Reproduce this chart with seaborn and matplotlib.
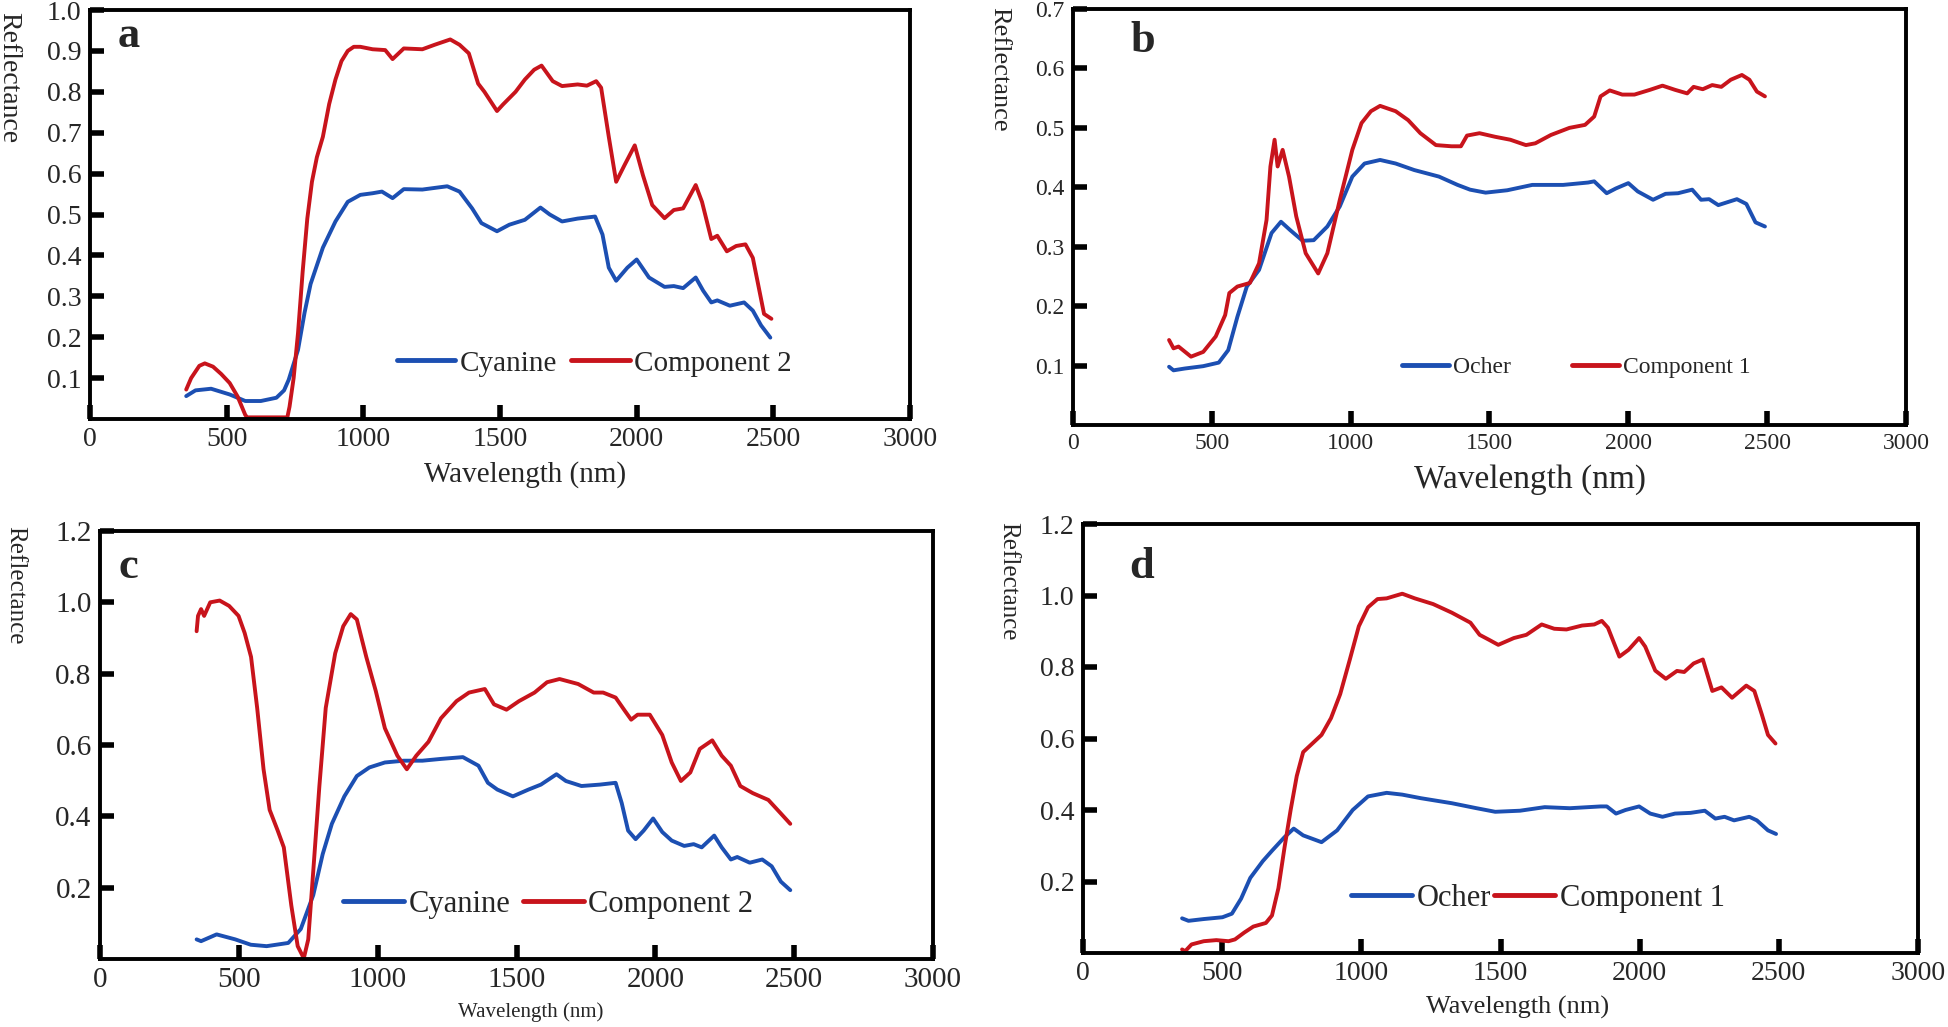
"""Reflectance spectra of pigments against their unmixed components (four panels)."""
import numpy as np
import pandas as pd
import seaborn as sns
import matplotlib
matplotlib.use("Agg")
import matplotlib.pyplot as plt
from matplotlib.ticker import FormatStrFormatter

# ---- panel a : Cyanine vs Component 2 ----
a_cyan_wl = [352, 386, 443, 511, 568, 625, 682, 710, 727, 761, 785, 807, 852, 898, 943, 989,
             1034, 1068, 1107, 1148, 1216, 1261, 1307, 1352, 1398, 1432, 1489, 1534, 1591,
             1648, 1682, 1727, 1784, 1848, 1875, 1898, 1925, 1966, 2000, 2045, 2102, 2136,
             2170, 2216, 2243, 2273, 2295, 2341, 2393, 2425, 2455, 2489]
a_cyan_r = [0.056, 0.070, 0.074, 0.060, 0.044, 0.044, 0.052, 0.070, 0.096, 0.169, 0.260,
            0.330, 0.419, 0.483, 0.531, 0.548, 0.552, 0.556, 0.540, 0.562, 0.561, 0.565,
            0.569, 0.556, 0.515, 0.479, 0.459, 0.475, 0.487, 0.517, 0.500, 0.483, 0.490,
            0.495, 0.451, 0.370, 0.338, 0.370, 0.390, 0.346, 0.323, 0.325, 0.320, 0.346,
            0.314, 0.285, 0.290, 0.277, 0.285, 0.265, 0.229, 0.199]
a_comp_wl = [352, 370, 400, 420, 450, 480, 511, 540, 568, 575, 650, 722, 730, 745, 761, 778,
             795, 812, 830, 852, 875, 898, 920, 943, 965, 989, 1034, 1080, 1107, 1148, 1216,
             1261, 1318, 1352, 1386, 1420, 1443, 1489, 1511, 1557, 1591, 1625, 1652, 1693,
             1727, 1784, 1818, 1852, 1870, 1898, 1925, 1955, 1993, 2023, 2057, 2102, 2136,
             2170, 2216, 2239, 2273, 2295, 2330, 2364, 2398, 2425, 2466, 2493]
a_comp_r = [0.072, 0.100, 0.130, 0.136, 0.128, 0.110, 0.088, 0.055, 0.010, 0.004, 0.004, 0.004,
            0.030, 0.100, 0.210, 0.360, 0.490, 0.580, 0.640, 0.690, 0.770, 0.830, 0.875,
            0.900, 0.910, 0.910, 0.904, 0.902, 0.880, 0.906, 0.904, 0.915, 0.928, 0.915,
            0.894, 0.820, 0.800, 0.753, 0.769, 0.800, 0.830, 0.854, 0.864, 0.826, 0.814,
            0.818, 0.815, 0.826, 0.810, 0.690, 0.580, 0.620, 0.669, 0.596, 0.523, 0.491,
            0.511, 0.515, 0.572, 0.531, 0.440, 0.448, 0.410, 0.423, 0.427, 0.394, 0.257,
            0.245]

# ---- panel b : Ocher vs Component 1 ----
b_ocher_wl = [346, 362, 402, 469, 525, 559, 592, 626, 670, 715, 749, 782, 827, 867, 916,
              961, 1006, 1050, 1106, 1162, 1229, 1318, 1385, 1430, 1486, 1564, 1654, 1765,
              1855, 1877, 1922, 1955, 2000, 2034, 2089, 2134, 2179, 2230, 2262, 2291, 2324,
              2391, 2425, 2458, 2492]
b_ocher_r = [0.098, 0.092, 0.095, 0.099, 0.105, 0.126, 0.182, 0.233, 0.261, 0.323, 0.342,
             0.328, 0.310, 0.311, 0.334, 0.368, 0.418, 0.440, 0.446, 0.440, 0.429, 0.418,
             0.404, 0.396, 0.391, 0.395, 0.404, 0.404, 0.408, 0.410, 0.390, 0.398, 0.407,
             0.393, 0.379, 0.389, 0.390, 0.396, 0.379, 0.380, 0.370, 0.380, 0.372, 0.341,
             0.334]
b_comp_wl = [346, 362, 380, 425, 469, 514, 548, 563, 592, 637, 670, 697, 711, 726, 737, 755,
             778, 804, 838, 883, 916, 961, 1006, 1039, 1073, 1106, 1162, 1207, 1251, 1307,
             1363, 1397, 1419, 1464, 1520, 1575, 1631, 1665, 1721, 1788, 1844, 1877, 1900,
             1933, 1978, 2022, 2078, 2123, 2168, 2212, 2235, 2268, 2302, 2335, 2369, 2409,
             2436, 2463, 2492]
b_comp_r = [0.143, 0.129, 0.132, 0.115, 0.123, 0.149, 0.185, 0.222, 0.233, 0.239, 0.272,
            0.345, 0.435, 0.480, 0.435, 0.463, 0.418, 0.351, 0.289, 0.255, 0.289, 0.379,
            0.463, 0.508, 0.528, 0.537, 0.528, 0.513, 0.491, 0.471, 0.469, 0.469, 0.487,
            0.491, 0.485, 0.480, 0.471, 0.474, 0.488, 0.500, 0.505, 0.519, 0.553, 0.563,
            0.556, 0.556, 0.564, 0.571, 0.564, 0.558, 0.569, 0.565, 0.572, 0.569, 0.581,
            0.589, 0.581, 0.561, 0.553]

# ---- panel c : Cyanine vs Component 2 ----
c_cyan_wl = [348, 364, 420, 487, 543, 600, 678, 723, 768, 802, 835, 880, 925, 970, 1026,
             1094, 1161, 1228, 1307, 1363, 1397, 1431, 1487, 1543, 1588, 1644, 1678, 1734,
             1801, 1857, 1879, 1902, 1929, 1958, 1992, 2025, 2059, 2104, 2138, 2167, 2212,
             2239, 2272, 2295, 2340, 2385, 2419, 2452, 2486]
c_cyan_r = [0.055, 0.050, 0.069, 0.055, 0.040, 0.036, 0.045, 0.084, 0.179, 0.294, 0.379,
            0.456, 0.513, 0.537, 0.551, 0.556, 0.556, 0.561, 0.566, 0.542, 0.494, 0.475,
            0.456, 0.475, 0.489, 0.518, 0.499, 0.485, 0.489, 0.494, 0.437, 0.360, 0.336,
            0.360, 0.394, 0.356, 0.332, 0.317, 0.322, 0.313, 0.346, 0.313, 0.279, 0.286,
            0.270, 0.279, 0.260, 0.217, 0.193]
c_comp_wl = [348, 353, 364, 375, 397, 431, 465, 499, 521, 544, 566, 589, 611, 640, 662, 689,
             712, 734, 750, 768, 790, 813, 847, 876, 903, 925, 959, 993, 1026, 1071, 1105,
             1139, 1183, 1228, 1284, 1329, 1386, 1419, 1464, 1509, 1565, 1610, 1655, 1722,
             1778, 1812, 1857, 1891, 1913, 1936, 1980, 2025, 2059, 2092, 2126, 2160, 2205,
             2239, 2272, 2306, 2351, 2407, 2452, 2486]
c_comp_r = [0.919, 0.962, 0.981, 0.962, 1.000, 1.005, 0.990, 0.962, 0.914, 0.847, 0.704,
            0.532, 0.418, 0.360, 0.313, 0.150, 0.036, 0.002, 0.055, 0.246, 0.484, 0.704,
            0.857, 0.933, 0.967, 0.952, 0.847, 0.752, 0.647, 0.570, 0.532, 0.570, 0.609,
            0.675, 0.723, 0.747, 0.757, 0.714, 0.699, 0.723, 0.747, 0.776, 0.785, 0.771,
            0.747, 0.747, 0.733, 0.695, 0.671, 0.685, 0.685, 0.628, 0.551, 0.499, 0.523,
            0.589, 0.613, 0.570, 0.542, 0.485, 0.465, 0.446, 0.408, 0.379]

# ---- panel d : Ocher vs Component 1 ----
d_ocher_wl = [356, 379, 434, 501, 535, 568, 601, 646, 679, 724, 757, 791, 857, 913, 969,
              1024, 1091, 1147, 1214, 1325, 1414, 1481, 1570, 1659, 1749, 1860, 1882, 1915,
              1949, 1998, 2038, 2082, 2127, 2183, 2234, 2272, 2305, 2339, 2394, 2421, 2461,
              2490]
d_ocher_r = [0.097, 0.090, 0.095, 0.100, 0.110, 0.152, 0.210, 0.257, 0.286, 0.324, 0.348,
             0.329, 0.310, 0.343, 0.400, 0.438, 0.448, 0.443, 0.433, 0.419, 0.405, 0.395,
             0.398, 0.408, 0.405, 0.410, 0.410, 0.390, 0.400, 0.410, 0.390, 0.381, 0.390,
             0.392, 0.398, 0.376, 0.381, 0.371, 0.381, 0.371, 0.343, 0.333]
d_comp_wl = [356, 367, 390, 434, 479, 523, 546, 579, 612, 657, 679, 702, 724, 746, 768, 791,
             824, 857, 891, 924, 958, 991, 1024, 1058, 1091, 1147, 1192, 1258, 1325, 1392,
             1425, 1459, 1492, 1548, 1593, 1648, 1693, 1737, 1793, 1837, 1864, 1886, 1927,
             1960, 1998, 2020, 2056, 2094, 2134, 2160, 2194, 2227, 2261, 2294, 2332, 2383,
             2412, 2439, 2461, 2488]
d_comp_r = [0.010, 0.005, 0.024, 0.033, 0.036, 0.033, 0.038, 0.057, 0.074, 0.084, 0.105,
            0.181, 0.295, 0.400, 0.495, 0.562, 0.586, 0.610, 0.657, 0.724, 0.819, 0.914,
            0.967, 0.990, 0.992, 1.005, 0.992, 0.976, 0.952, 0.924, 0.890, 0.876, 0.862,
            0.881, 0.890, 0.919, 0.907, 0.905, 0.916, 0.919, 0.929, 0.910, 0.829, 0.848,
            0.881, 0.857, 0.790, 0.767, 0.789, 0.786, 0.810, 0.821, 0.733, 0.743, 0.714,
            0.748, 0.733, 0.667, 0.610, 0.586]

x_ticks = [0, 500, 1000, 1500, 2000, 2500, 3000]
BLUE = "#1c4fb2"
RED = "#c8141c"

W, H = 1948, 1027
sns.set_theme(style="white")
plt.rcParams["font.family"] = ["Liberation Serif", "DejaVu Serif"]

fig = plt.figure(figsize=(W / 100, H / 100), dpi=100)

# per panel: axes rect in pixels (left, top, right, bottom), y range, y ticks, fonts, text spots
panels = [
    dict(letter="a", rect=(90, 10, 910, 419), ylim=1.0, yticks=np.arange(1, 11) / 10,
         series=[("Cyanine", a_cyan_wl, a_cyan_r), ("Component 2", a_comp_wl, a_comp_r)],
         tick_fs=20, xl_fs=21, yl_fs=20, leg_fs=21, leg=(0.615, 0.136), colsp=0.5,
         xl=(0.53, -0.136), yl=(-0.099, 0.835), let=(129, 47)),
    dict(letter="b", rect=(1073, 9, 1906, 425), ylim=0.7, yticks=np.arange(1, 8) / 10,
         series=[("Ocher", b_ocher_wl, b_ocher_r), ("Component 1", b_comp_wl, b_comp_r)],
         tick_fs=17, xl_fs=24, yl_fs=19, leg_fs=17, leg=(0.604, 0.139), colsp=2.6,
         xl=(0.549, -0.132), yl=(-0.089, 0.856), let=(1143, 52)),
    dict(letter="c", rect=(100, 531, 933, 959), ylim=1.2, yticks=np.arange(1, 7) / 5,
         series=[("Cyanine", c_cyan_wl, c_cyan_r), ("Component 2", c_comp_wl, c_comp_r)],
         tick_fs=21, xl_fs=15, yl_fs=18, leg_fs=22, leg=(0.538, 0.128), colsp=0.4,
         xl=(0.517, -0.124), yl=(-0.102, 0.874), let=(128, 578)),
    dict(letter="d", rect=(1083, 524, 1918, 953), ylim=1.2, yticks=np.arange(1, 7) / 5,
         series=[("Ocher", d_ocher_wl, d_ocher_r), ("Component 1", d_comp_wl, d_comp_r)],
         tick_fs=20, xl_fs=19, yl_fs=18, leg_fs=22, leg=(0.545, 0.128), colsp=0.1,
         xl=(0.52, -0.128), yl=(-0.090, 0.867), let=(1142, 578)),
]

for p in panels:
    l, t, r, b = p["rect"]
    ax = fig.add_axes([l / W, 1 - b / H, (r - l) / W, (b - t) / H])
    frames = []
    for name, wl, refl in p["series"]:
        frames.append(pd.DataFrame({"Wavelength": wl, "Reflectance": refl, "series": name}))
    df = pd.concat(frames, ignore_index=True)
    names = [s[0] for s in p["series"]]
    sns.lineplot(data=df, x="Wavelength", y="Reflectance", hue="series", hue_order=names,
                 palette=[BLUE, RED], sort=False, estimator=None, linewidth=2.8, ax=ax)

    ax.set_xlim(0, 3000)
    ax.set_ylim(0, p["ylim"])
    ax.set_xticks(x_ticks)
    ax.set_yticks(p["yticks"])
    ax.yaxis.set_major_formatter(FormatStrFormatter("%.1f"))
    ax.tick_params(direction="in", length=10, width=4, color="black",
                   labelsize=p["tick_fs"], pad=6, bottom=True, left=True)
    for s in ax.spines.values():
        s.set_linewidth(2.8)
        s.set_color("black")
    ax.grid(False)

    ax.set_xlabel("Wavelength (nm)", fontsize=p["xl_fs"])
    ax.xaxis.label.set_va("center")
    ax.xaxis.set_label_coords(*p["xl"])
    ax.set_ylabel("Reflectance", fontsize=p["yl_fs"], rotation=270, va="center", ha="center")
    ax.yaxis.set_label_coords(*p["yl"])

    old = ax.get_legend()
    handles = old.legend_handles
    labels = [tx.get_text() for tx in old.get_texts()]
    for h in handles:
        h.set_linewidth(3.5)
    ax.legend(handles, labels, loc="center", bbox_to_anchor=p["leg"], ncol=2,
              frameon=False, fontsize=p["leg_fs"], handlelength=2.0,
              handletextpad=0.15, columnspacing=p["colsp"])

    fig.text(p["let"][0] / W, 1 - p["let"][1] / H, p["letter"], fontsize=32,
             fontweight="bold", ha="center", va="baseline")

fig.savefig("out.png", dpi=100)
